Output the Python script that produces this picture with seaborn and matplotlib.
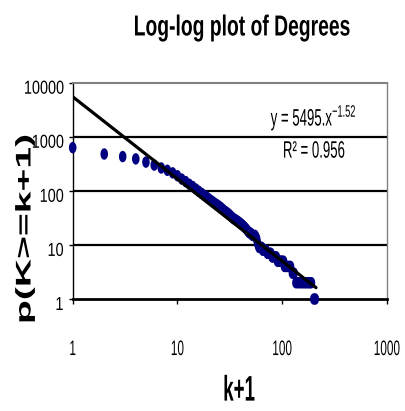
import numpy as np
import pandas as pd
import matplotlib
matplotlib.use("Agg")
import matplotlib.pyplot as plt
import seaborn as sns
from matplotlib.patheffects import AbstractPathEffect
from matplotlib.transforms import Affine2D
from matplotlib.path import Path
from matplotlib.ticker import NullLocator

# ---------------- data ----------------
k_plus_1 = [1, 2, 3, 4, 5, 6, 7, 8, 9, 10, 11, 12, 13, 14, 15, 16, 17, 18, 19, 20,
            21, 22, 23, 24, 25, 26, 27, 28, 29, 30, 31, 32, 33, 34, 35, 36, 37, 38, 39,
            40, 41, 42, 43, 44, 45, 46, 47, 48, 49, 50, 51, 52, 53, 55, 56, 57, 58, 59,
            60, 61, 62, 64, 65, 66, 68, 69, 70, 72, 73, 75, 76, 78, 80, 82, 84, 86, 88,
            90, 92, 94, 96, 98, 100, 103, 105, 108, 110, 113, 115, 118, 120, 125, 128, 130,
            135, 140, 145, 150, 155, 160, 165, 170, 175, 180, 185, 190, 200, 207]
p_cum = [630, 480, 430, 390, 340, 300, 265, 240, 215, 190, 165, 148, 132, 120, 108, 98, 90, 83, 77, 71,
         66, 62, 58, 55, 52, 49, 46, 43, 41, 39, 37, 35, 33, 31, 30, 29, 28, 27, 26,
         25, 24, 23, 22, 21, 20, 19, 18, 17, 17, 16, 16, 15, 15, 15, 14, 13, 11, 10,
         9, 9, 9, 9, 8, 8, 8, 8, 8, 7, 7, 7, 7, 7, 6, 6, 6, 6, 6,
         5, 5, 5, 5, 5, 5, 5, 4, 4, 4, 4, 4, 4, 4, 3, 3, 3,
         2, 2, 2, 2, 2, 2, 2, 2, 2, 2, 2, 2, 1, 1]

fit_a = 5495
fit_b = -1.52
fit_x_range = [1, 210]

x_ticks = [1, 10, 100, 1000]
x_tick_labels = ["1", "10", "100", "1000"]
y_ticks = [1, 10, 100, 1000, 10000]
y_tick_labels = ["1", "10", "100", "1000", "10000"]

title_text = "Log-log plot of Degrees"
x_label = "k+1"
y_label = "p(K>=k+1)"
eq_text = "y = 5495.x$^{-1.52}$"
r2_text = "R² = 0.956"


# ---------------- helpers ----------------
class Stretch(AbstractPathEffect):
    """Stretch rendered text vertically about its own centre (display space)."""
    def __init__(self, sy=1.0, dx=0.0, dy=0.0):
        super().__init__()
        self.sy, self.dx, self.dy = sy, dx, dy

    def draw_path(self, renderer, gc, tpath, affine, rgbFace=None):
        ext = tpath.get_extents(affine)
        cx = 0.5 * (ext.x0 + ext.x1)
        cy = 0.5 * (ext.y0 + ext.y1)
        t = affine + Affine2D().translate(-cx, -cy).scale(1, self.sy).translate(cx + self.dx, cy + self.dy)
        renderer.draw_path(gc, tpath, t, rgbFace)


sns.set_theme(style="white")
plt.rcParams["font.family"] = ["Liberation Sans", "DejaVu Sans"]
plt.rcParams["mathtext.default"] = "regular"

W, H = 406, 411
fig = plt.figure(figsize=(W / 100, H / 100), dpi=100)
fig.patch.set_facecolor("white")

L, R, T, B = 72.7, 387.0, 82.7, 299.0
ax = fig.add_axes([L / W, 1 - B / H, (R - L) / W, (B - T) / H])
ax.set_facecolor("white")


def ax_xy(px, py):
    return (px - L) / (R - L), (B - py) / (B - T)


df = pd.DataFrame({"k": k_plus_1, "p": p_cum})

theta = np.linspace(0, 2 * np.pi, 48)
ellipse = Path(np.column_stack([0.66 * np.cos(theta), np.sin(theta)]), closed=True)

sns.scatterplot(data=df, x="k", y="p", marker=ellipse, s=68, color="#000080",
                edgecolor="none", linewidth=0, ax=ax, zorder=3, legend=False,
                clip_on=False)

fit_y = [fit_a * xv ** fit_b for xv in fit_x_range]
sns.lineplot(x=fit_x_range, y=fit_y, color="black", linewidth=2.3, ax=ax, zorder=4,
             legend=False)

ax.set_xscale("log")
ax.set_yscale("log")
ax.set_xlim(x_ticks[0], x_ticks[-1])
ax.set_ylim(y_ticks[0], y_ticks[-1])
ax.set_xticks(x_ticks)
ax.set_xticklabels(x_tick_labels)
ax.set_yticks(y_ticks)
ax.set_yticklabels(y_tick_labels)
ax.xaxis.set_minor_locator(NullLocator())
ax.yaxis.set_minor_locator(NullLocator())
ax.set_xlabel("")
ax.set_ylabel("")
ax.grid(False)

for v in y_ticks[1:-1]:
    ax.axhline(v, color="black", linewidth=1.6, zorder=1)

for side in ["left", "right", "top", "bottom"]:
    ax.spines[side].set_visible(True)
ax.spines["left"].set_color("black")
ax.spines["left"].set_linewidth(1.0)
ax.spines["bottom"].set_color("black")
ax.spines["bottom"].set_linewidth(2.0)
ax.spines["top"].set_color("#808080")
ax.spines["top"].set_linewidth(1.5)
ax.spines["right"].set_color("#808080")
ax.spines["right"].set_linewidth(1.0)

ax.tick_params(axis="x", which="major", direction="out", length=3.6, width=1.0,
               color="black", labelsize=8.5, pad=28, labelcolor="black", bottom=True)
ax.tick_params(axis="y", which="major", direction="out", length=2.6, width=1.0,
               color="black", labelsize=10.4, pad=4, labelcolor="black", left=True)

for t in ax.xaxis.get_major_ticks():
    t.label1.set_path_effects([Stretch(1.78)])
for t in ax.yaxis.get_major_ticks():
    t.label1.set_path_effects([Stretch(1.3, 0, -4)])

# title
fig.text(241.5 / W, 1 - 28.5 / H, title_text, ha="center", va="center",
         fontsize=13.9, fontweight="bold", color="black",
         path_effects=[Stretch(1.5)])

# axis labels
ax.set_xlabel(x_label, fontsize=13.5, fontweight="bold", color="black",
              path_effects=[Stretch(1.9)])
ax.xaxis.label.set_va("center")
ax.xaxis.set_label_coords(*ax_xy(239, 390))

ax.set_ylabel(y_label, fontsize=15.3, fontweight="bold", color="black",
              rotation=90, path_effects=[Stretch(1.84)])
ax.yaxis.label.set_va("center")
ax.yaxis.label.set_ha("center")
ax.yaxis.set_label_coords(*ax_xy(25, 229))

# trendline annotation
ax.text(*ax_xy(314, 118), eq_text, transform=ax.transAxes, ha="center", va="center",
        fontsize=9.5, color="black", path_effects=[Stretch(1.8)], zorder=5)
ax.text(*ax_xy(314, 151), r2_text, transform=ax.transAxes, ha="center", va="center",
        fontsize=9.5, color="black", path_effects=[Stretch(1.8)], zorder=5)

fig.savefig("out.png", dpi=100, facecolor="white")
